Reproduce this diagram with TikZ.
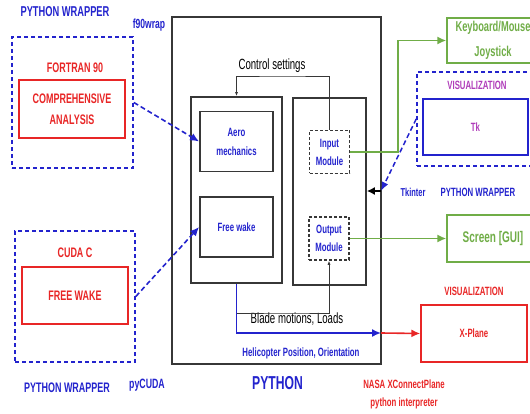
\documentclass[tikz,border=0pt]{standalone}
\usepackage{fontspec}
\setmainfont{Liberation Sans}[FakeStretch=0.65]
\usepackage{xcolor}
\usepackage{tikz}
\usetikzlibrary{arrows.meta,positioning,calc}

\definecolor{pyblue}{RGB}{35,35,205}
\definecolor{pyred}{RGB}{232,38,38}
\definecolor{pygreen}{RGB}{112,173,71}
\definecolor{pypurple}{RGB}{175,60,185}
\definecolor{pygrey}{RGB}{55,55,55}

\newcommand{\fsz}[2]{\fontsize{#1}{#2}\selectfont}

\begin{document}
\begin{tikzpicture}[x=1pt,y=-1pt,
    size/.style 2 args={minimum width=#1pt,minimum height=#2pt,inner sep=0pt},
    frame/.style={draw=pygrey,line width=1.8pt},
    wrapbox/.style={draw=pyblue,line width=1.6pt,dash pattern=on 4pt off 3pt},
    redbox/.style={draw=pyred,line width=1.4pt,text=pyred,font=\fsz{13.8}{21}\bfseries,align=center},
    greenbox/.style={draw=pygreen,line width=1.4pt,text=pygreen,align=center},
    modbox/.style={draw=pygrey,line width=1.5pt,dash pattern=on 3pt off 2pt,text=pyblue,font=\fsz{12}{18}\bfseries,align=center},
    bluetxt/.style={text=pyblue,font=\fsz{#1}{#1}\bfseries,inner sep=0pt},
    redtxt/.style={text=pyred,font=\fsz{12}{18}\bfseries,align=center,inner sep=0pt},
    dasharrow/.style={pyblue,line width=1.6pt,dash pattern=on 5pt off 3pt,-{Latex[length=9pt,width=8pt]}},
    thinline/.style={draw=pygrey,line width=0.7pt,-{Latex[length=4pt,width=3pt]}},
    greenarrow/.style={pygreen,line width=1.6pt,-{Latex[length=9pt,width=8pt]}}]

\useasboundingbox (0,0) rectangle (530,414);
\clip (0,0) rectangle (530,414);

% fortran side
\node[wrapbox,size={121}{131}] (fortwrap) at (72.5,102.5) {};
\node[redbox,size={106}{58}] (fortbox) at (72,109) {COMPREHENSIVE\\ANALYSIS};
\node[bluetxt=14.3] (fortlbl) at (65,12) {PYTHON WRAPPER};
\node[text=pyred,font=\fsz{13.8}{14}\bfseries] (fortname) at (75,68) {FORTRAN 90};
\node[bluetxt=13.2] (f90) at (149,25) {f90wrap};

% cuda side
\node[wrapbox,size={120}{131}] (cudawrap) at (75,296.5) {};
\node[redbox,size={106}{57}] (cudabox) at (75,295.5) {FREE WAKE};
\node[text=pyred,font=\fsz{13.8}{14}\bfseries] (cudaname) at (75,253) {CUDA C};
\node[bluetxt=13.8] (cudalbl) at (67,388) {PYTHON WRAPPER};
\node[bluetxt=13.5] (pycuda) at (147,385) {pyCUDA};

% python core
\node[frame,size={209}{347}] (python) at (276.5,190.5) {};
\node[frame,size={91}{186}] (solver) at (236.5,190) {};
\node[frame,size={73}{60},text=pyblue,font=\fsz{12}{19}\bfseries,align=center] (aero) at (236.5,141.5) {Aero\\mechanics};
\node[frame,size={73}{60},text=pyblue,font=\fsz{12}{13}\bfseries] (wake) at (236.5,227) {Free wake};
\node[frame,size={73}{187}] (io) at (329.5,191.5) {};
\node[modbox,size={40}{43}] (input) at (329.5,152) {Input\\Module};
\node[modbox,size={40}{43}] (output) at (329,238.5) {Output\\Module};
\node[text=black,font=\fsz{14.8}{15},inner sep=0pt] (ctrltxt) at (272,66) {Control settings};
\node[text=black,font=\fsz{14.8}{15},inner sep=0pt] (bladetxt) at (297,319) {Blade motions, Loads};
\node[bluetxt=12] (helitxt) at (301,353) {Helicopter Position, Orientation};
\node[bluetxt=18.7] (pytxt) at (277.5,383) {PYTHON};

% devices and visualization
\node[greenbox,size={92}{45},font=\fsz{14.3}{25}\bfseries] (keyboard) at (493,40.5) {Keyboard/Mouse\\Joystick};
\node[wrapbox,size={120}{94}] (tkwrap) at (477,119) {};
\node[draw=pyblue,line width=1.4pt,size={105}{56},text=pypurple,font=\fsz{12}{13}\bfseries] (tkbox) at (475.5,127) {Tk};
\node[text=pypurple,font=\fsz{12}{13}\bfseries,inner sep=0pt] (tkvis) at (477,85) {VISUALIZATION};
\node[bluetxt=11.5] (tkinter) at (413,192) {Tkinter};
\node[bluetxt=12] (tklbl) at (478,192) {PYTHON WRAPPER};
\node[greenbox,size={92}{47},font=\fsz{15.4}{16}\bfseries] (screen) at (493,238.5) {Screen [GUI]};
\node[draw=pyred,line width=1.4pt,size={106}{57},text=pyred,font=\fsz{12}{13}\bfseries] (xplane) at (474,333.5) {X-Plane};
\node[redtxt] (xvis) at (474,291) {VISUALIZATION};
\node[redtxt] (nasa) at (404,394) {NASA XConnectPlane\\python interpreter};

% connectors
\coordinate (ctrl) at (282,76);
\coordinate (blade) at (290,313);
\coordinate (heli) at (381,333);
\coordinate (kbturn) at (398,152);
\coordinate (tkin) at (381,191);

\draw[dasharrow] (fortwrap.east) -- (aero.west);
\draw[dasharrow] (cudawrap.east) -- (wake.west);
\draw[thinline] (input.north) |- (ctrl) -| (solver.north);
\draw[thinline] (solver.south) |- (blade) -| (output.south);
\draw[pyblue,line width=1.6pt,-{Latex[length=9pt,width=8pt]}] (solver.south) |- (heli);
\draw[pyred,line width=1.6pt,-{Latex[length=9pt,width=8pt]}] (heli) -- (xplane.west);
\draw[greenarrow] (input.east) -- (kbturn) |- (keyboard.west);
\draw[greenarrow] (output.east) -- (screen.west);
\draw[pyblue,line width=1.5pt,dash pattern=on 5pt off 3pt,-{Latex[length=9pt,width=7pt]}] (tkwrap.west) -- (tkin);
\draw[black,line width=1.2pt,-{Latex[length=8pt,width=8pt]}] (tkin) -- (io.east |- tkin);
\end{tikzpicture}
\end{document}
